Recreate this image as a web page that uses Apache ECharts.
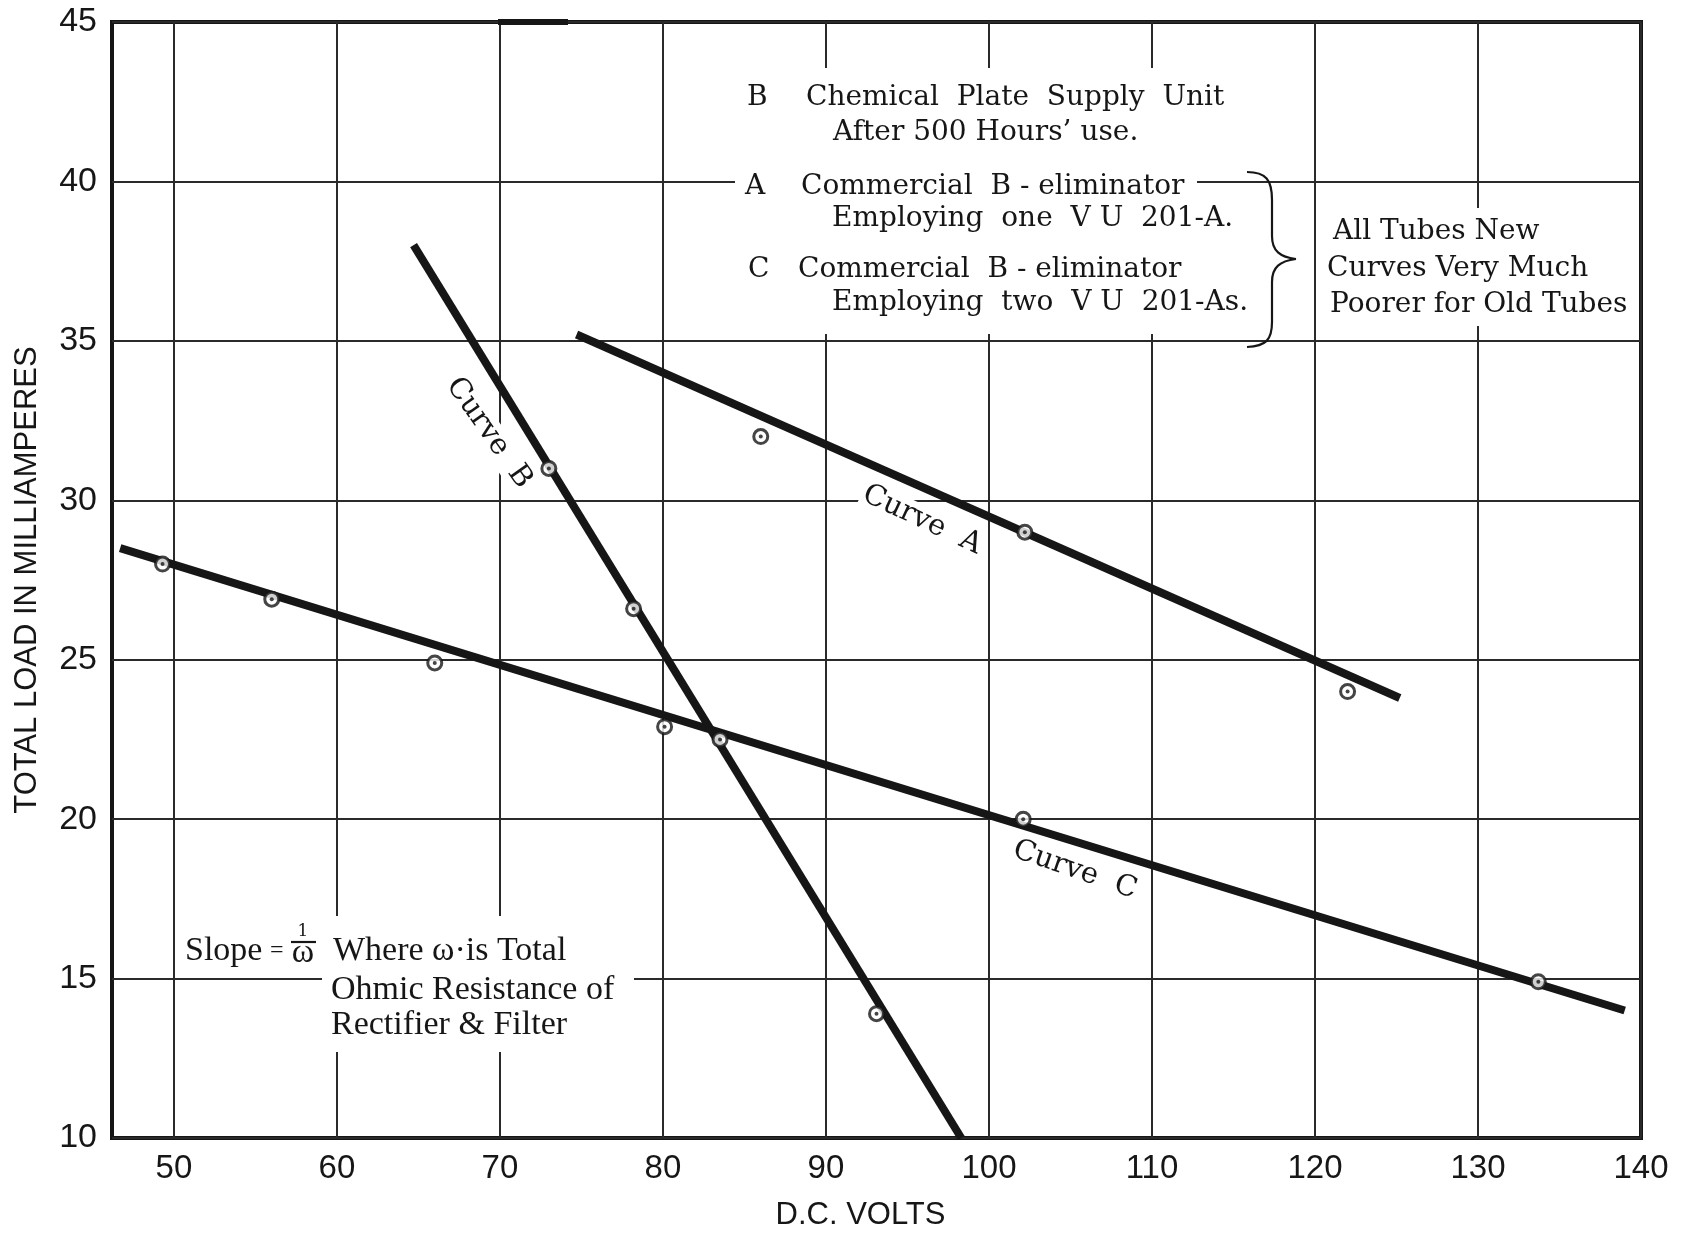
<!DOCTYPE html>
<html lang="en">

<head>
  <meta charset="UTF-8">
  <title>Total load vs D.C. volts</title>
  <script src="https://cdn.jsdelivr.net/npm/echarts@6.0.0/dist/echarts.min.js"></script>
  <style>
    html, body { margin: 0; padding: 0; background: #fff; }
    #main { position: absolute; left: 0; top: 0; width: 1681px; height: 1236px; }
  </style>
</head>

<body>
  <div id="main"></div>
  <script>
    // values
    var xTicks = [50, 60, 70, 80, 90, 100, 110, 120, 130, 140]
    var curveA = [[74.7, 35.2], [125.2, 23.8]]
    var curveB = [[64.7, 38.0], [98.3, 10]]
    var curveC = [[46.7, 28.5], [139.0, 14.0]]
    var pointsA = [[86.0, 32.0], [102.2, 29.0], [122.0, 24.0]]
    var pointsB = [[73.0, 31.0], [78.2, 26.6], [93.1, 13.9]]
    var pointsC = [[49.3, 28.0], [56.0, 26.9], [66.0, 24.9], [80.1, 22.9], [83.5, 22.5], [102.1, 20.0], [133.7, 14.9]]

    var ink = '#161616'
    var serif = '"DejaVu Serif", "Liberation Serif", serif'
    var sans = '"Liberation Sans", Arial, sans-serif'

    function lineSeries(name, data) {
      return {
        name: name, type: 'line', data: data, symbol: 'none', z: 3,
        lineStyle: { color: ink, width: 8, cap: 'butt' }
      }
    }
    function ringSeries(data) {
      return {
        type: 'scatter', data: data, symbol: 'circle', symbolSize: 14, z: 4,
        itemStyle: { color: '#fff', borderColor: ink, borderWidth: 3 }
      }
    }
    function dotSeries(data) {
      return {
        type: 'scatter', data: data, symbol: 'circle', symbolSize: 4, z: 5,
        itemStyle: { color: ink }
      }
    }
    function txt(x, y, s, size, extra) {
      var el = {
        type: 'text', x: x, y: y, z: 1,
        style: {
          text: s, fill: ink, font: size + 'px ' + serif,
          align: 'left', verticalAlign: 'middle'
        }
      }
      if (extra) {
        for (var k in extra) {
          if (k === 'style') Object.assign(el.style, extra.style)
          else el[k] = extra[k]
        }
      }
      return el
    }
    function whiteBox(x, y, w, h) {
      return { type: 'rect', z: 1, shape: { x: x, y: y, width: w, height: h }, style: { fill: '#fff' } }
    }
    function seg(x1, y1, x2, y2) {
      return { type: 'line', z: 1, shape: { x1: x1, y1: y1, x2: x2, y2: y2 }, style: { stroke: ink, lineWidth: 2.2 } }
    }
    function curl(x1, y1, c1x, c1y, c2x, c2y, x2, y2) {
      return {
        type: 'bezierCurve', z: 1,
        shape: { x1: x1, y1: y1, cpx1: c1x, cpy1: c1y, cpx2: c2x, cpy2: c2y, x2: x2, y2: y2 },
        style: { fill: 'none', stroke: ink, lineWidth: 2.2 }
      }
    }
    var bg = { backgroundColor: '#fff', padding: [1, 3] }
    var slopeFont = '34px "Liberation Serif", serif'
    var curveLbl = { align: 'center', backgroundColor: '#fff', padding: [0, 2] }

    var myChart = echarts.init(document.getElementById('main'))
    var option = {
      backgroundColor: '#fff',
      animation: false,
      grid: {
        left: 112, right: 40, top: 22, bottom: 97,
        show: true, borderColor: ink, borderWidth: 4
      },
      xAxis: {
        type: 'value', min: 46.2, max: 140,
        name: 'D.C. VOLTS', nameLocation: 'middle', nameGap: 62,
        nameTextStyle: { fontFamily: sans, fontSize: 31, color: ink, padding: [0, 32, 0, 0] },
        axisLine: { show: false },
        axisTick: { show: false, customValues: xTicks },
        axisLabel: { customValues: xTicks, fontFamily: sans, fontSize: 33, color: ink, margin: 14 },
        splitLine: { show: true, lineStyle: { color: '#2a2a2a', width: 2 } }
      },
      yAxis: {
        type: 'value', min: 10, max: 45, interval: 5,
        name: 'TOTAL LOAD IN MILLIAMPERES', nameLocation: 'middle', nameGap: 69,
        nameTextStyle: { fontFamily: sans, fontSize: 31, color: ink },
        axisLine: { show: false },
        axisTick: { show: false },
        axisLabel: { fontFamily: sans, fontSize: 34, color: ink, margin: 15 },
        splitLine: { show: true, lineStyle: { color: '#2a2a2a', width: 2 } }
      },
      series: [
        lineSeries('Curve A', curveA),
        lineSeries('Curve B', curveB),
        lineSeries('Curve C', curveC),
        ringSeries(pointsA), ringSeries(pointsB), ringSeries(pointsC),
        dotSeries(pointsA), dotSeries(pointsB), dotSeries(pointsC)
      ],
      graphic: [
        // heavier stroke on the top border, as in the scan
        { type: 'rect', z: 1, shape: { x: 498, y: 19, width: 70, height: 6 }, style: { fill: ink } },

        // key block
        whiteBox(735, 68, 462, 266),
        txt(747, 98, 'B', 28),
        txt(803, 98, 'Chemical  Plate  Supply  Unit', 28, { style: bg }),
        txt(833, 133, 'After 500 Hours\u2019 use.', 28),
        txt(745, 187, 'A', 28),
        txt(801, 187, 'Commercial  B - eliminator', 28),
        txt(829, 219, 'Employing  one  V U  201-A.', 28, { style: bg }),
        txt(748, 270, 'C', 28),
        txt(798, 270, 'Commercial  B - eliminator', 28),
        txt(829, 303, 'Employing  two  V U  201-As.', 28, { style: bg }),
        // brace
        curl(1247, 172, 1266, 172, 1272, 180, 1272, 200),
        seg(1272, 200, 1272, 236),
        curl(1272, 236, 1272, 251, 1280, 257, 1296, 259),
        curl(1296, 259, 1280, 261, 1272, 267, 1272, 282),
        seg(1272, 282, 1272, 322),
        curl(1272, 322, 1272, 340, 1266, 346, 1247, 347),
        whiteBox(1325, 208, 311, 118),
        txt(1333, 232, 'All Tubes New', 28),
        txt(1327, 269, 'Curves Very Much', 28),
        txt(1330, 305, 'Poorer for Old Tubes', 28),

        // slope note
        whiteBox(322, 916, 312, 136),
        txt(185, 951, 'Slope', 34, { style: { font: slopeFont } }),
        txt(270, 951, '=', 24, { style: { font: '24px "Liberation Serif", serif' } }),
        txt(303, 932, '1', 17, { style: { align: 'center' } }),
        seg(291, 942, 316, 942),
        txt(303, 953, '\u03c9', 34, { style: { align: 'center', font: slopeFont } }),
        txt(333, 951, 'Where \u03c9\u00b7is Total', 34, { style: { font: slopeFont } }),
        txt(331, 990, 'Ohmic Resistance of', 34, { style: { font: slopeFont } }),
        txt(331, 1025, 'Rectifier & Filter', 34, { style: { font: slopeFont } }),

        // curve labels
        txt(489, 433, 'Curve  B', 29, { rotation: -55 * Math.PI / 180, style: curveLbl }),
        txt(922, 520, 'Curve  A', 29, { rotation: -25 * Math.PI / 180, style: curveLbl }),
        txt(1075, 870, 'Curve  C', 29, { rotation: -19 * Math.PI / 180, style: curveLbl })
      ]
    }
    myChart.setOption(option)
  </script>
</body>

</html>
